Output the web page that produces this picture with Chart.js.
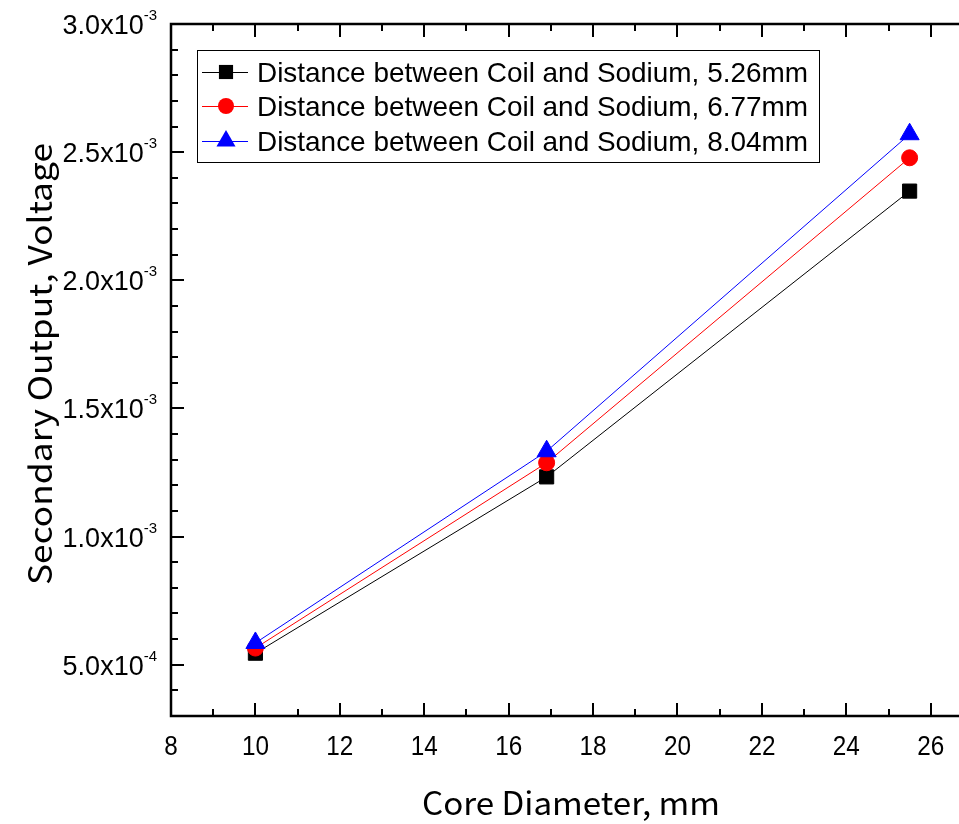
<!DOCTYPE html>
<html>
<head>
<meta charset="utf-8">
<script src="https://cdn.jsdelivr.net/npm/chart.js@4/dist/chart.umd.min.js"></script>
<style>
  html, body { margin: 0; padding: 0; background: #fff; overflow: hidden; }
  canvas { display: block; }
</style>
</head>
<body>
<canvas id="chart" width="959" height="824"></canvas>
<script>
// core diameter (mm)
const coreDiameter = [10, 16.9, 25.5];
// secondary output voltage for each coil-sodium distance
const dist526 = [5.45e-4, 1.233e-3, 2.348e-3];
const dist677 = [5.65e-4, 1.288e-3, 2.478e-3];
const dist804 = [5.85e-4, 1.333e-3, 2.570e-3];
const seriesNames = [
    "Distance between Coil and Sodium, 5.26mm",
    "Distance between Coil and Sodium, 6.77mm",
    "Distance between Coil and Sodium, 8.04mm"
];
const xTicks = [8, 10, 12, 14, 16, 18, 20, 22, 24, 26];
const yTicks = [5e-4, 1.0e-3, 1.5e-3, 2.0e-3, 2.5e-3, 3.0e-3];
const yTickMantissa = ["5.0", "1.0", "1.5", "2.0", "2.5", "3.0"];
const yTickExponent = ["-4", "-3", "-3", "-3", "-3", "-3"];

function toPoints(values) {
    return coreDiameter.map((x, i) => ({ x: x, y: values[i] }));
}

const frameFont = "'Liberation Sans', Arial, sans-serif";
const titleFont = "'Noto Sans CJK KR', 'Noto Sans', sans-serif";

// draw text squeezed/stretched to a target width
function fitText(ctx, text, x, y, width) {
    const w = ctx.measureText(text).width;
    ctx.save();
    ctx.translate(x, y);
    ctx.scale(width / w, 1);
    ctx.fillText(text, 0, 0);
    ctx.restore();
}

const framePlugin = {
    id: "frame",
    afterDraw(chart) {
        const ctx = chart.ctx;
        const area = chart.chartArea;
        const xs = chart.scales.x;
        const ys = chart.scales.y;
        ctx.save();

        // axis lines (left, bottom, top)
        ctx.strokeStyle = "#000";
        ctx.lineWidth = 2.5;
        ctx.beginPath();
        ctx.moveTo(area.right + 2, area.top);
        ctx.lineTo(area.left, area.top);
        ctx.lineTo(area.left, area.bottom);
        ctx.lineTo(area.right + 2, area.bottom);
        ctx.stroke();

        // x ticks, inward on bottom and top
        ctx.lineWidth = 2;
        for (let v = 8; v <= 26; v += 1) {
            const px = Math.round(xs.getPixelForValue(v));
            const len = v % 2 === 0 ? 13 : 7;
            ctx.beginPath();
            ctx.moveTo(px, area.bottom);
            ctx.lineTo(px, area.bottom - len);
            ctx.moveTo(px, area.top);
            ctx.lineTo(px, area.top + len);
            ctx.stroke();
        }

        // y ticks, inward on left
        for (let i = 3; i <= 30; i++) {
            const v = i * 1e-4;
            const py = Math.round(ys.getPixelForValue(v));
            const len = i % 5 === 0 ? 13 : 7;
            ctx.beginPath();
            ctx.moveTo(area.left, py);
            ctx.lineTo(area.left + len, py);
            ctx.stroke();
        }

        // x tick labels
        ctx.fillStyle = "#000";
        ctx.textAlign = "center";
        ctx.textBaseline = "alphabetic";
        ctx.font = "27px " + frameFont;
        xTicks.forEach(v => {
            const px = xs.getPixelForValue(v);
            ctx.save();
            ctx.translate(px, 755);
            ctx.scale(0.9, 1);
            ctx.fillText(String(v), 0, 0);
            ctx.restore();
        });

        // y tick labels with superscript exponent
        yTicks.forEach((v, i) => {
            const py = ys.getPixelForValue(v);
            ctx.font = "15px " + frameFont;
            const expW = ctx.measureText(yTickExponent[i]).width;
            ctx.textAlign = "left";
            ctx.textBaseline = "alphabetic";
            ctx.fillText(yTickExponent[i], 157 - expW, py - 4);
            ctx.font = "27px " + frameFont;
            ctx.textAlign = "right";
            ctx.fillText(yTickMantissa[i] + "x10", 157 - expW, py + 10);
        });

        // axis titles
        ctx.font = "32px " + titleFont;
        ctx.textAlign = "center";
        ctx.textBaseline = "alphabetic";
        fitText(ctx, "Core Diameter, mm", 571, 815, 298);
        ctx.save();
        ctx.translate(52, 364);
        ctx.rotate(-Math.PI / 2);
        fitText(ctx, "Secondary Output, Voltage", 0, 0, 442);
        ctx.restore();

        // legend
        const lx = 197, ly = 50, lw = 622, lh = 112;
        ctx.fillStyle = "#fff";
        ctx.fillRect(lx, ly, lw, lh);
        ctx.strokeStyle = "#000";
        ctx.lineWidth = 1;
        ctx.strokeRect(lx + 0.5, ly + 0.5, lw, lh);
        const rows = [72, 106, 141];
        chart.data.datasets.forEach((ds, i) => {
            const ry = rows[i];
            ctx.strokeStyle = ds.borderColor;
            ctx.lineWidth = 1;
            ctx.beginPath();
            ctx.moveTo(202, ry + 0.5);
            ctx.lineTo(248, ry + 0.5);
            ctx.stroke();
            ctx.fillStyle = ds.pointBackgroundColor;
            Chart.helpers.drawPoint(ctx, {
                pointStyle: ds.pointStyle,
                radius: ds.pointRadius,
                borderWidth: 0,
                rotation: 0
            }, 226, ry);
            ctx.fillStyle = "#000";
            ctx.textAlign = "left";
            ctx.textBaseline = "alphabetic";
            ctx.font = "28px " + frameFont;
            fitText(ctx, seriesNames[i], 257, ry + 10, 551);
        });

        ctx.restore();
    }
};

new Chart(document.getElementById("chart"), {
    type: "line",
    data: {
        datasets: [{
            label: seriesNames[0],
            data: toPoints(dist526),
            borderColor: "#000000",
            pointBackgroundColor: "#000000",
            pointBorderColor: "#000000",
            pointStyle: "rect",
            pointRadius: 10,
            borderWidth: 1,
            order: 3
        }, {
            label: seriesNames[1],
            data: toPoints(dist677),
            borderColor: "#ff0000",
            pointBackgroundColor: "#ff0000",
            pointBorderColor: "#ff0000",
            pointStyle: "circle",
            pointRadius: 8,
            borderWidth: 1,
            order: 2
        }, {
            label: seriesNames[2],
            data: toPoints(dist804),
            borderColor: "#0000ff",
            pointBackgroundColor: "#0000ff",
            pointBorderColor: "#0000ff",
            pointStyle: "triangle",
            pointRadius: 11,
            borderWidth: 1,
            order: 1
        }]
    },
    options: {
        responsive: false,
        animation: false,
        layout: { autoPadding: false, padding: { left: 171, top: 24, right: 0, bottom: 108 } },
        plugins: {
            legend: { display: false },
            tooltip: { enabled: false }
        },
        elements: {
            line: { tension: 0 },
            point: { borderWidth: 0 }
        },
        scales: {
            x: {
                type: "linear",
                display: false,
                min: 8,
                max: 26.67
            },
            y: {
                type: "linear",
                display: false,
                min: 3e-4,
                max: 3e-3
            }
        }
    },
    plugins: [framePlugin]
});
</script>
</body>
</html>
